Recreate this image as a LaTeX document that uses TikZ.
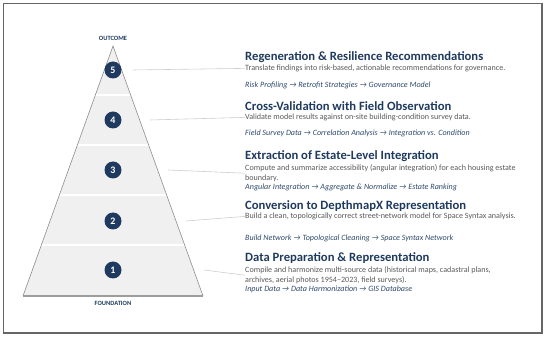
\documentclass[tikz,border=0pt]{standalone}
\usepackage{fontspec}
\setmainfont{Carlito}
\usetikzlibrary{positioning}
\definecolor{Navy}{RGB}{31,58,94}
\definecolor{Slate}{RGB}{46,74,107}
\definecolor{Grey60}{RGB}{89,89,89}
\definecolor{Band}{RGB}{240,240,240}
\definecolor{Edge}{RGB}{140,140,140}
\definecolor{Leader}{RGB}{205,205,205}
\definecolor{Frame}{RGB}{102,102,102}

\begin{document}
\begin{tikzpicture}[
    stage/.style={circle,fill=Navy,text=white,font=\bfseries\fontsize{8.5}{10}\selectfont,minimum size=0.51cm,inner sep=0pt},
    title/.style={anchor=base west,inner sep=0pt,text=Navy,font=\bfseries\fontsize{10.8}{12}\selectfont},
    desc/.style={anchor=base west,inner sep=0pt,align=left,text=Grey60,font=\fontsize{6.9}{8.5}\selectfont},
    flow/.style={desc,text=Slate,font=\itshape\fontsize{6.9}{8.5}\selectfont},
    tag/.style={text=Navy,font=\bfseries\fontsize{5.5}{6}\selectfont},
    leader/.style={draw=Leader,line width=0.5pt}
]
\useasboundingbox (0,0) rectangle (16.5,-10.11);

% Frame
\draw[Frame,line width=1.2pt] (0.105,-0.105) rectangle (16.26,-9.99);

% Pyramid
\coordinate (apex) at (3.39,-1.38);
\coordinate (bl) at (0.69,-8.88);
\coordinate (br) at (6.09,-8.88);
\fill[Band] (apex) -- (br) -- (bl) -- cycle;
\begin{scope}
  \clip (apex) -- (br) -- (bl) -- cycle;
  \foreach \y in {2.85,4.35,5.85,7.35}
    \draw[white,line width=1pt] (0,-\y) -- (7,-\y);
\end{scope}
\draw[Edge,line width=0.5pt] (bl) -- (apex) -- (br);
\draw[Edge!85,line width=1pt] (bl) -- (br);

% Labels top and bottom
\node[tag] (top) at (3.39,-1.14) {OUTCOME};
\node[tag] (bottom) at (3.39,-9.09) {FOUNDATION};

% Stage markers
\node[stage] (s5) at (3.39,-2.1) {5};
\node[stage] (s4) at (3.39,-3.6) {4};
\node[stage] (s3) at (3.39,-5.1) {3};
\node[stage] (s2) at (3.39,-6.63) {2};
\node[stage] (s1) at (3.39,-8.1) {1};

% Stage 5
\node[title] (t5) at (7.35,-1.83) {Regeneration \& Resilience Recommendations};
\node[desc] (d5) at (7.35,-2.115) {Translate findings into risk-based, actionable recommendations for governance.};
\node[flow] (f5) at (7.35,-2.625) {Risk Profiling → Retrofit Strategies → Governance Model};

% Stage 4
\node[title] (t4) at (7.35,-3.33) {Cross-Validation with Field Observation};
\node[desc] (d4) at (7.35,-3.585) {Validate model results against on-site building-condition survey data.};
\node[flow] (f4) at (7.35,-4.065) {Field Survey Data → Correlation Analysis → Integration vs. Condition};

% Stage 3 (two lines, base is the last line)
\node[title] (t3) at (7.35,-4.80) {Extraction of Estate-Level Integration};
\node[desc] (d3) at (7.35,-5.415) {Compute and summarize accessibility (angular integration) for each housing estate\\boundary.};
\node[flow] (f3) at (7.35,-5.685) {Angular Integration → Aggregate \& Normalize → Estate Ranking};

% Stage 2
\node[title] (t2) at (7.35,-6.30) {Conversion to DepthmapX Representation};
\node[desc] (d2) at (7.35,-6.555) {Build a clean, topologically correct street-network model for Space Syntax analysis.};
\node[flow] (f2) at (7.35,-7.215) {Build Network → Topological Cleaning → Space Syntax Network};

% Stage 1 (two lines)
\node[title] (t1) at (7.35,-7.86) {Data Preparation \& Representation};
\node[desc] (d1) at (7.35,-8.475) {Compile and harmonize multi-source data (historical maps, cadastral plans,\\archives, aerial photos 1954–2023, field surveys).};
\node[flow] (f1) at (7.35,-8.745) {Input Data → Data Harmonization → GIS Database};

% Leader lines
\coordinate (l5) at (3.99,-2.1);
\coordinate (l4) at (4.50,-3.6);
\coordinate (l3) at (5.04,-5.1);
\coordinate (l2) at (5.58,-6.63);
\coordinate (l1) at (6.12,-8.1);
\foreach \i in {1,...,5}
  \draw[leader] (l\i) -- (d\i.west);

\end{tikzpicture}
\end{document}
